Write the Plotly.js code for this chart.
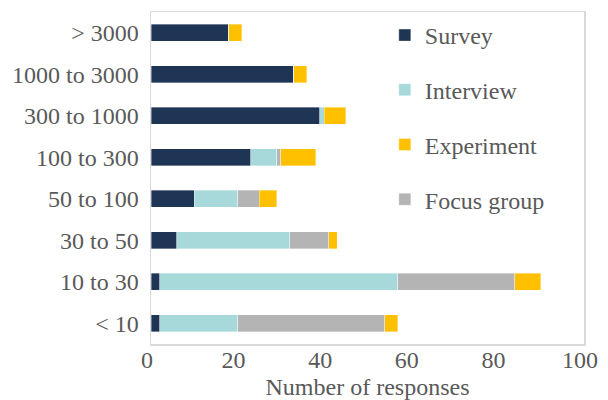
<!DOCTYPE html>
<html>
<head>
<meta charset="utf-8">
<script src="https://cdn.plot.ly/plotly-3.0.1.min.js"></script>
<style>html,body{margin:0;padding:0;background:#fff;}#chart{width:608px;height:400px;}</style>
</head>
<body>
<div id="chart"></div>
<script>
const categories = ["< 10", "10 to 30", "30 to 50", "50 to 100", "100 to 300", "300 to 1000", "1000 to 3000", "> 3000"];
const survey     = [2, 2, 6, 10, 23, 39, 33, 18];
const interview  = [18, 55, 26, 10, 6, 1, 0, 0];
const focusGroup = [34, 27, 9, 5, 1, 0, 0, 0];
const experiment = [3, 6, 2, 4, 8, 5, 3, 3];
const xTicks = [0, 20, 40, 60, 80, 100];

const FONT = "Liberation Serif";
const GRAY = "#595959";

function bar(name, vals, color, rank) {
  return {
    type: "bar", orientation: "h", name: name,
    x: vals, y: categories,
    marker: {color: color, line: {color: "rgba(255,255,255,0.6)", width: 0.6}},
    legendrank: rank, legendgroup: name,
    hoverinfo: "x+name"
  };
}

const data = [
  bar("Survey", survey, "#1f3556", 1),
  bar("Interview", interview, "#a8d9da", 2),
  bar("Focus group", focusGroup, "#b4b4b4", 4),
  bar("Experiment", experiment, "#ffc000", 3)
];

const layout = {
  width: 608, height: 400,
  margin: {l: 151, r: 24, t: 12, b: 56},
  barmode: "stack", bargap: 0.6,
  paper_bgcolor: "#fff", plot_bgcolor: "#fff",
  font: {family: FONT, color: GRAY, size: 24},
  xaxis: {
    range: [0, 100], tickvals: xTicks, ticktext: xTicks.map(String),
    showgrid: false, zeroline: false,
    showline: true, mirror: true, linecolor: "#d9d9d9", linewidth: 1.5,
    ticks: "", ticklabelshift: -4, ticklabelstandoff: -6,
    tickfont: {family: FONT, size: 24, color: GRAY},
    title: {text: "Number of responses", font: {family: FONT, size: 24, color: GRAY}, standoff: 16}
  },
  yaxis: {
    type: "category", categoryorder: "array", categoryarray: categories,
    showgrid: false, zeroline: false,
    showline: true, mirror: true, linecolor: "#d9d9d9", linewidth: 1.5,
    ticks: "", ticklabelstandoff: 6,
    tickfont: {family: FONT, size: 24, color: GRAY}
  },
  showlegend: true,
  legend: {
    x: 0.54, xanchor: "left", y: 0.997, yanchor: "top",
    bgcolor: "rgba(0,0,0,0)", borderwidth: 0,
    font: {family: FONT, size: 24, color: GRAY},
    traceorder: "grouped", tracegroupgap: 20.5,
    itemwidth: 30
  }
};

Plotly.newPlot("chart", data, layout, {displayModeBar: false, staticPlot: true});
</script>
</body>
</html>
